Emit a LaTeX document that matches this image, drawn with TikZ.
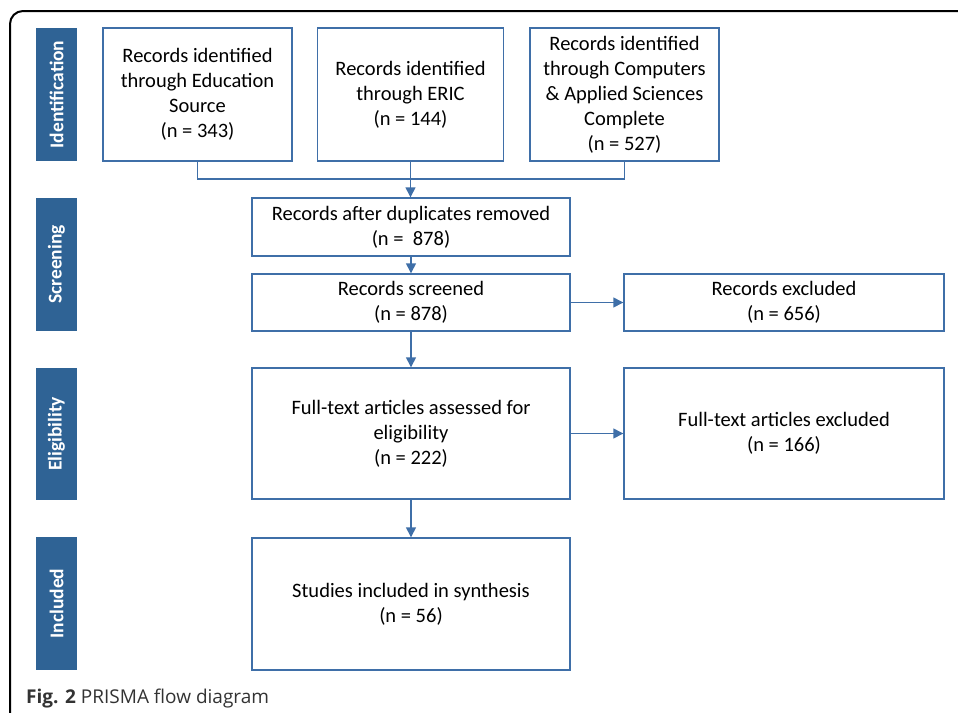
\documentclass[tikz,border=0pt]{standalone}
\usepackage{fontspec}
\setmainfont{Carlito}
\newfontfamily\capfont{Open Sans}
\usetikzlibrary{arrows.meta}
\definecolor{barblue}{HTML}{2F6395}
\definecolor{lineblue}{HTML}{3F6FA8}
\definecolor{capgray}{HTML}{333333}
\begin{document}
\begin{tikzpicture}[x=1pt,y=-1pt,
  box/.style={draw=lineblue,line width=1.4pt,fill=white,rectangle,inner sep=0pt,align=center,
    font=\fontsize{20.5}{25}\selectfont},
  bar/.style={fill=barblue,draw=none,rectangle,inner sep=0pt,minimum width=41pt,
    text=white,font=\bfseries\fontsize{19.5}{24}\selectfont,rotate=90},
  conn/.style={draw=lineblue,line width=1.4pt},
  arr/.style={conn,-{Triangle[length=10pt,width=10pt]}}]
\useasboundingbox (0,0) rectangle (958,712);
\fill[white] (0,0) rectangle (958,712);
% outer frame
\draw[black,line width=2pt,rounded corners=13pt] (10,714) -- (10,11) -- (960,11);
% side bars
\node[bar,minimum height=41pt,minimum width=133pt] (bid) at (56.5,94.5) {Identification};
\node[bar,minimum height=41pt,minimum width=133pt] (bsc) at (56.5,264.5) {Screening};
\node[bar,minimum height=41pt,minimum width=132pt] (bel) at (56.5,434) {Eligibility};
\node[bar,minimum height=41pt,minimum width=133pt] (bin) at (56.5,603.5) {Included};
% boxes
\node[box,minimum width=189pt,minimum height=133pt] (src1) at (197.5,94.5)
  {Records identified\\through Education\\Source\\(n = 343)};
\node[box,minimum width=186pt,minimum height=133pt] (src2) at (410.5,94.5)
  {Records identified\\through ERIC\\(n = 144)};
\node[box,minimum width=189pt,minimum height=133pt] (src3) at (624.5,94.5)
  {Records identified\\through Computers\\\& Applied Sciences\\Complete\\(n = 527)};
\node[box,minimum width=318pt,minimum height=58pt] (dup) at (411,227)
  {Records after duplicates removed\\(n =\ \ 878)};
\node[box,minimum width=318pt,minimum height=57pt] (scr) at (411,302.5)
  {Records screened\\(n = 878)};
\node[box,minimum width=320pt,minimum height=57pt] (exc) at (784,302.5)
  {Records excluded\\(n = 656)};
\node[box,minimum width=318pt,minimum height=131pt] (ft) at (411,433.5)
  {Full-text articles assessed for\\eligibility\\(n = 222)};
\node[box,minimum width=320pt,minimum height=131pt] (ftx) at (784,433.5)
  {Full-text articles excluded\\(n = 166)};
\node[box,minimum width=318pt,minimum height=132pt] (inc) at (411,604)
  {Studies included in synthesis\\(n = 56)};
% connectors
\coordinate (j1) at (197.5,179);
\coordinate (j3) at (624.5,179);
\draw[conn] (src1.south) -- (j1) -- (j3) -- (src3.south);
\draw[arr] (src2.south) -- (src2.south |- dup.north);
\draw[arr] (dup.south) -- (scr.north);
\draw[arr] (scr.south) -- (ft.north);
\draw[arr] (ft.south) -- (inc.north);
\draw[arr] (scr.east) -- (exc.west);
\draw[arr] (ft.east) -- (ftx.west);
% caption
\node[anchor=base west,inner sep=0pt,text=capgray,font=\capfont\fontsize{19}{22}\selectfont] (cap) at (26,703)
  {\textbf{Fig. 2} PRISMA flow diagram};
\end{tikzpicture}
\end{document}
